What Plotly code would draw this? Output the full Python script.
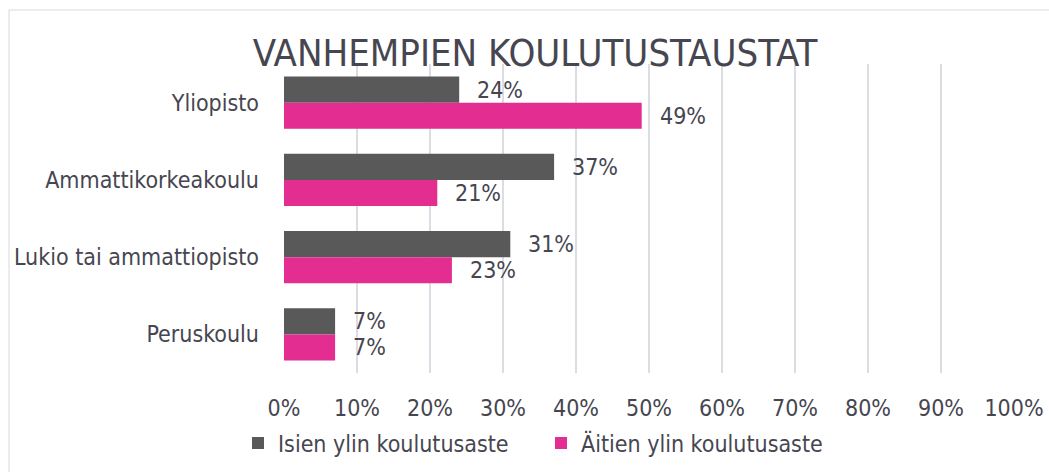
import plotly.graph_objects as go

categories = ["Yliopisto", "Ammattikorkeakoulu", "Lukio tai ammattiopisto", "Peruskoulu"]
fathers = [24, 37, 31, 7]
mothers = [49, 21, 23, 7]
series_names = ["Isien ylin koulutusaste", "Äitien ylin koulutusaste"]
tick_vals = [0, 10, 20, 30, 40, 50, 60, 70, 80, 90, 100]
tick_text = [f"{v}%" for v in tick_vals]
title_text = "VANHEMPIEN KOULUTUSTAUSTAT"

GRAY = "#595959"
PINK = "#E32D91"
TXT = "#464650"
FONT = "DejaVu Sans Condensed"

W, H = 1049, 472
L, R, T, B = 284, 35, 64, 99
pw = W - L - R
ph = H - T - B

fig = go.Figure()
fig.add_trace(go.Bar(y=categories, x=fathers, name=series_names[0], orientation="h",
                     marker=dict(color=GRAY, line=dict(width=0))))
fig.add_trace(go.Bar(y=categories, x=mothers, name=series_names[1], orientation="h",
                     marker=dict(color=PINK, line=dict(width=0))))

annotations = []
for vals, ysh in ((fathers, 13), (mothers, -13)):
    for c, v in zip(categories, vals):
        annotations.append(dict(x=v, y=c, xref="x", yref="y", text=f"{v}%",
                                showarrow=False, xanchor="left", yanchor="middle",
                                xshift=16, yshift=ysh,
                                font=dict(family=FONT, size=23, color=TXT)))

def px2paper_x(px):
    return (px - L) / pw

def px2paper_y(py):
    return (H - B - py) / ph

fig.update_layout(
    width=W, height=H,
    margin=dict(l=L, r=R, t=T, b=B, autoexpand=False),
    paper_bgcolor="white", plot_bgcolor="white",
    barmode="group", bargap=0.325, bargroupgap=0,
    font=dict(family=FONT, size=23, color=TXT),
    title=dict(text=title_text, x=535 / W, xanchor="center",
               y=1 - 53 / H, yanchor="middle", yref="container",
               font=dict(family=FONT, size=38, color=TXT)),
    xaxis=dict(range=[0, 100], tickvals=tick_vals, ticktext=tick_text,
               showgrid=True, gridcolor="#dcdce3", gridwidth=1.5,
               zeroline=False, showline=False, ticks="",
               ticklabelstandoff=19,
               tickfont=dict(family=FONT, size=23, color=TXT)),
    yaxis=dict(autorange="reversed", showgrid=False, zeroline=False,
               showline=False, ticks="", ticklabelstandoff=24,
               tickfont=dict(family=FONT, size=23, color=TXT)),
    legend=dict(orientation="h", x=px2paper_x(238), xanchor="left",
                y=px2paper_y(443), yanchor="middle",
                entrywidth=258, entrywidthmode="pixels",
                font=dict(family=FONT, size=23, color=TXT),
                bgcolor="rgba(0,0,0,0)"),
    annotations=annotations,
    shapes=[dict(type="rect", xref="paper", yref="paper",
                 x0=px2paper_x(9), x1=px2paper_x(1070),
                 y0=px2paper_y(490), y1=px2paper_y(10),
                 line=dict(color="#d9d9d9", width=1), fillcolor="rgba(0,0,0,0)",
                 layer="below")],
)

fig.write_html("out.html", config={"displayModeBar": False},
               post_script="document.body.style.margin='0';document.body.style.overflow='hidden';")
